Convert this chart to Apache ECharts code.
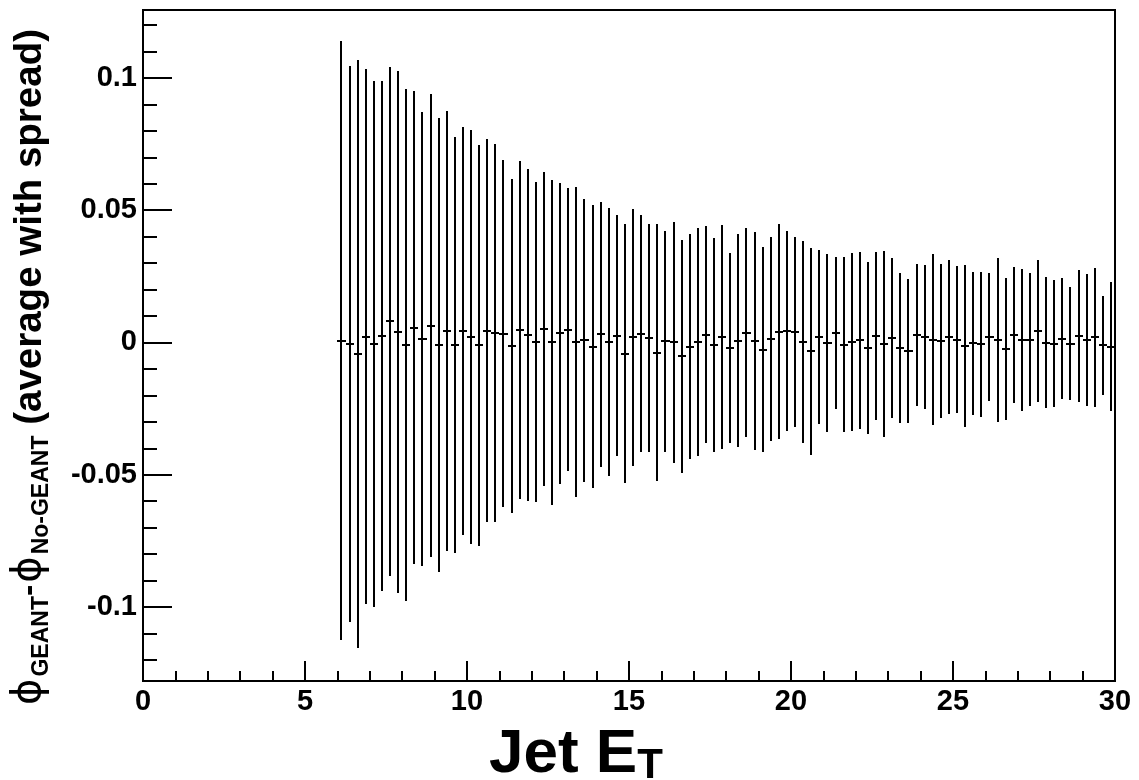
<!DOCTYPE html>
<html>
<head>
<meta charset="utf-8">
<script src="https://cdn.jsdelivr.net/npm/echarts@6/dist/echarts.min.js"></script>
<style>
  html, body { margin: 0; padding: 0; background: #fff; }
  #chart { width: 1139px; height: 780px; }
</style>
</head>
<body>
<div id="chart"></div>
<script>
// Histogram bin centres (Jet E_T, bins of width 0.25 from 6 to 30)
const binWidth = 0.25;
const binCenters = [
  6.125, 6.375, 6.625, 6.875, 7.125, 7.375, 7.625, 7.875,
  8.125, 8.375, 8.625, 8.875, 9.125, 9.375, 9.625, 9.875,
  10.125, 10.375, 10.625, 10.875, 11.125, 11.375, 11.625, 11.875,
  12.125, 12.375, 12.625, 12.875, 13.125, 13.375, 13.625, 13.875,
  14.125, 14.375, 14.625, 14.875, 15.125, 15.375, 15.625, 15.875,
  16.125, 16.375, 16.625, 16.875, 17.125, 17.375, 17.625, 17.875,
  18.125, 18.375, 18.625, 18.875, 19.125, 19.375, 19.625, 19.875,
  20.125, 20.375, 20.625, 20.875, 21.125, 21.375, 21.625, 21.875,
  22.125, 22.375, 22.625, 22.875, 23.125, 23.375, 23.625, 23.875,
  24.125, 24.375, 24.625, 24.875, 25.125, 25.375, 25.625, 25.875,
  26.125, 26.375, 26.625, 26.875, 27.125, 27.375, 27.625, 27.875,
  28.125, 28.375, 28.625, 28.875, 29.125, 29.375, 29.625, 29.875
];
// Average of phi_GEANT - phi_No-GEANT per bin
const meanValues = [
  0.0007, -0.0006, -0.0044, 0.0022, -0.0007, 0.0025, 0.0080, 0.0039,
  -0.0009, 0.0056, 0.0013, 0.0064, -0.0010, 0.0043, -0.0010, 0.0042,
  0.0021, -0.0010, 0.0044, 0.0036, 0.0033, -0.0013, 0.0047, 0.0029,
  0.0000, 0.0051, 0.0000, 0.0034, 0.0048, 0.0002, 0.0008, -0.0016,
  0.0031, 0.0002, 0.0026, -0.0043, 0.0019, 0.0033, 0.0016, -0.0038,
  0.0005, 0.0000, -0.0053, -0.0016, 0.0002, 0.0029, -0.0011, 0.0020,
  -0.0021, 0.0006, 0.0037, 0.0005, -0.0027, 0.0012, 0.0040, 0.0044,
  0.0038, 0.0002, -0.0034, 0.0021, -0.0003, 0.0036, -0.0008, 0.0002,
  0.0008, -0.0021, 0.0025, -0.0006, 0.0018, -0.0021, -0.0032, 0.0029,
  0.0021, 0.0010, 0.0005, 0.0019, 0.0010, -0.0013, -0.0003, -0.0007,
  0.0021, 0.0010, -0.0024, 0.0029, 0.0009, 0.0011, 0.0044, -0.0001,
  -0.0004, 0.0014, -0.0004, 0.0025, 0.0009, 0.0019, -0.0011, -0.0016
];
// Spread (half-length of the vertical bar) per bin
const spreadValues = [
  0.1132, 0.1052, 0.1112, 0.1011, 0.0994, 0.0963, 0.0962, 0.0986,
  0.0967, 0.0895, 0.0860, 0.0876, 0.0858, 0.0831, 0.0787, 0.0771,
  0.0782, 0.0758, 0.0724, 0.0713, 0.0657, 0.0632, 0.0639, 0.0627,
  0.0605, 0.0593, 0.0615, 0.0568, 0.0535, 0.0585, 0.0534, 0.0534,
  0.0500, 0.0508, 0.0455, 0.0489, 0.0486, 0.0448, 0.0430, 0.0484,
  0.0418, 0.0457, 0.0440, 0.0426, 0.0430, 0.0411, 0.0405, 0.0424,
  0.0360, 0.0403, 0.0396, 0.0411, 0.0387, 0.0386, 0.0406, 0.0378,
  0.0359, 0.0382, 0.0391, 0.0330, 0.0336, 0.0288, 0.0332, 0.0338,
  0.0334, 0.0324, 0.0317, 0.0352, 0.0302, 0.0282, 0.0272, 0.0268,
  0.0271, 0.0323, 0.0292, 0.0291, 0.0278, 0.0307, 0.0270, 0.0274,
  0.0241, 0.0310, 0.0269, 0.0257, 0.0269, 0.0251, 0.0269, 0.0248,
  0.0240, 0.0228, 0.0213, 0.0249, 0.0250, 0.0264, 0.0186, 0.0243
];
// Axis ticks
const xMajorTicks = [0, 5, 10, 15, 20, 25, 30];
const yMajorTicks = [-0.1, -0.05, 0, 0.05, 0.1];
const yTickLabels = ['-0.1', '-0.05', '0', '0.05', '0.1'];
const yMinorTicks = [-0.12, -0.11, -0.09, -0.08, -0.07, -0.06, -0.04, -0.03, -0.02, -0.01,
                     0.01, 0.02, 0.03, 0.04, 0.06, 0.07, 0.08, 0.09, 0.11, 0.12];
const xRange = [0, 30];
const yRange = [-0.128, 0.1257];

const FONT = '"Liberation Sans", Arial, Helvetica, sans-serif';
const SYMFONT = '"DejaVu Sans", sans-serif';

const seriesData = binCenters.map((x, i) => [x, meanValues[i], spreadValues[i]]);

const chart = echarts.init(document.getElementById('chart'), null, { renderer: 'canvas' });

const snap = v => Math.round(v);

const option = {
  animation: false,
  backgroundColor: '#ffffff',
  grid: {
    left: 143, right: 24, top: 10, bottom: 99,
    show: true, borderColor: '#000', borderWidth: 2, backgroundColor: 'transparent'
  },
  xAxis: {
    type: 'value', min: xRange[0], max: xRange[1], interval: 5,
    axisLine: { show: true, onZero: false, lineStyle: { color: '#000', width: 2 } },
    axisTick: { show: true, inside: true, length: 20, lineStyle: { color: '#000', width: 2 } },
    minorTick: { show: true, splitNumber: 5, length: 10, lineStyle: { color: '#000', width: 2 } },
    axisLabel: {
      color: '#000', fontFamily: FONT, fontWeight: 'bold', fontSize: 29, margin: 6,
      formatter: v => xMajorTicks.includes(v) ? String(v) : ''
    },
    splitLine: { show: false }
  },
  yAxis: [
    {
      type: 'value', min: yRange[0], max: yRange[1], position: 'left',
      axisLine: { show: true, onZero: false, lineStyle: { color: '#000', width: 2 } },
      axisTick: { show: true, inside: true, length: 29, customValues: yMajorTicks, lineStyle: { color: '#000', width: 2 } },
      axisLabel: {
        show: true, customValues: yMajorTicks,
        color: '#000', fontFamily: FONT, fontWeight: 'bold', fontSize: 29, margin: 6,
        formatter: v => {
          const i = yMajorTicks.findIndex(t => Math.abs(t - v) < 1e-9);
          return i >= 0 ? yTickLabels[i] : '';
        }
      },
      splitLine: { show: false }
    },
    {
      type: 'value', min: yRange[0], max: yRange[1], position: 'left', offset: 0,
      axisLine: { show: false },
      axisTick: { show: true, inside: true, length: 14, customValues: yMinorTicks, lineStyle: { color: '#000', width: 2 } },
      axisLabel: { show: false },
      splitLine: { show: false }
    }
  ],
  series: [{
    type: 'custom',
    xAxisIndex: 0, yAxisIndex: 0,
    clip: true,
    data: seriesData,
    renderItem: (params, api) => {
      const x = api.value(0), m = api.value(1), s = api.value(2);
      const top = api.coord([x, m + s]);
      const bot = api.coord([x, m - s]);
      const l = api.coord([x - binWidth / 2, m]);
      const r = api.coord([x + binWidth / 2, m]);
      const cx = snap(top[0]);
      const my = snap(l[1]);
      return {
        type: 'group',
        children: [
          { type: 'line', shape: { x1: cx, y1: snap(top[1]), x2: cx, y2: snap(bot[1]) },
            style: { stroke: '#000', lineWidth: 2 } },
          { type: 'line', shape: { x1: snap(l[0]), y1: my, x2: snap(r[0]), y2: my },
            style: { stroke: '#000', lineWidth: 2 } }
        ]
      };
    }
  }],
  graphic: [
    {
      type: 'text', x: 30, y: 29, rotation: Math.PI / 2,
      style: {
        text: '{phi|ϕ}{sub|GEANT}{h|-}{phi|ϕ}{sub|No-GEANT}{n| (average with spread)}',
        align: 'right', verticalAlign: 'middle', fill: '#000',
        rich: {
          phi: { fontFamily: SYMFONT, fontWeight: 'normal', fontSize: 40, lineHeight: 46, verticalAlign: 'middle', fill: '#000', padding: [0, 2, 0, 2] },
          n: { fontFamily: FONT, fontWeight: 'bold', fontSize: 38.5, lineHeight: 46, verticalAlign: 'middle', fill: '#000' },
          h: { fontFamily: FONT, fontWeight: 'bold', fontSize: 34, lineHeight: 46, verticalAlign: 'middle', fill: '#000' },
          sub: { fontFamily: FONT, fontWeight: 'bold', fontSize: 23, lineHeight: 28, verticalAlign: 'bottom', fill: '#000' }
        }
      }
    },
    {
      type: 'text', x: 489, y: 755,
      style: {
        text: '{m|Jet E}{s|T}',
        align: 'left', verticalAlign: 'middle', fill: '#000',
        rich: {
          m: { fontFamily: FONT, fontWeight: 'bold', fontSize: 62, lineHeight: 64, verticalAlign: 'middle', fill: '#000' },
          s: { fontFamily: FONT, fontWeight: 'bold', fontSize: 42, lineHeight: 42, verticalAlign: 'bottom', fill: '#000' }
        }
      }
    }
  ]
};

chart.setOption(option);
</script>
</body>
</html>
